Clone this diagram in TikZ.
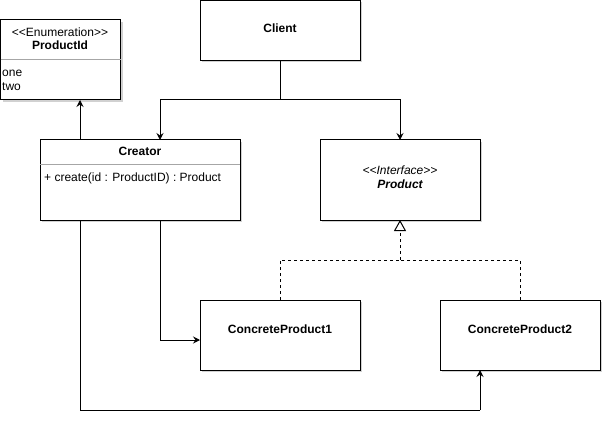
\documentclass[tikz,border=0pt]{standalone}
\usepackage{fontspec}
\setmainfont{Liberation Sans}[Ligatures=TeXOff]
\usetikzlibrary{arrows.meta,shadows}
\begin{document}
\begin{tikzpicture}[x=1pt,y=-1pt,
  box/.style={draw=black, fill=white, line width=1pt, inner sep=0pt, outer sep=0pt, anchor=north west,
    drop shadow={shadow xshift=2pt, shadow yshift=-2pt, opacity=0.18, fill=black}},
  lbl/.style={font=\fontsize{12}{14}\selectfont, inner sep=0pt},
  bold/.style={lbl, font=\fontsize{12}{14}\selectfont\bfseries},
  sep/.style={draw=black!35, line width=0.8pt},
  wire/.style={line width=1pt},
  conn/.style={wire, -{Stealth[length=7pt,width=7pt,inset=2.5pt]}},
  realize/.style={wire, dash pattern=on 3pt off 3pt},
]
\useasboundingbox (0,0) rectangle (612,430);

% boxes
\node[box, minimum width=120pt, minimum height=80pt] (pid) at (0.5,20) {};
\node[box, minimum width=160pt, minimum height=60pt] (client) at (200,0.5) {};
\node[box, minimum width=200pt, minimum height=80pt] (creator) at (40,140) {};
\node[box, minimum width=160pt, minimum height=80pt] (product) at (320,140) {};
\node[box, minimum width=160pt, minimum height=70pt] (cp1) at (200,300) {};
\node[box, minimum width=160pt, minimum height=70pt] (cp2) at (440,300) {};

% separators
\draw[sep] (pid.west |- 0,59) -- (pid.east |- 0,59);
\draw[sep] (creator.west |- 0,164) -- (creator.east |- 0,164);

% texts
\node[lbl] (pidst) at (60,32) {<<Enumeration>>};
\node[bold] (pidname) at (60,45.5) {ProductId};
\node[lbl, anchor=west] (pidone) at (2,73) {one};
\node[lbl, anchor=west] (pidtwo) at (2,87) {two};
\node[bold] (clientname) at (280,28) {Client};
\node[bold] (creatorname) at (140,151) {Creator};
\node[lbl, anchor=west] (creatorop) at (44,178) {+ create(id : ProductID) : Product};
\node[lbl, font=\fontsize{12}{14}\selectfont\itshape] (prodst) at (400,170) {<<Interface>>};
\node[bold, font=\fontsize{12}{14}\selectfont\bfseries\itshape] (prodname) at (400,184) {Product};
\node[bold] (cp1name) at (280,329) {ConcreteProduct1};
\node[bold] (cp2name) at (520,329) {ConcreteProduct2};

% connectors
\coordinate (jc) at (280,100);
\draw[wire] (client.south) -- (jc);
\draw[conn] (jc) -| (creator.north -| 160,0);
\draw[conn] (jc) -| (product.north);
\draw[conn] (creator.north -| 80,0) -- (pid.south -| 80,0);
\draw[conn] (creator.south -| 160,0) |- (cp1.west |- 0,340);
\coordinate (jb) at (480,410);
\draw[wire] (creator.south -| 80,0) |- (jb);
\draw[conn] (jb) -- (cp2.south -| 480,0);
\coordinate (jr) at (400,260);
\draw[realize] (cp1.north) |- (jr);
\draw[realize] (cp2.north) |- (jr);
\draw[realize, -{Triangle[open, length=11pt, width=12pt, line width=1pt]}] (jr) -- (product.south);
\end{tikzpicture}
\end{document}
